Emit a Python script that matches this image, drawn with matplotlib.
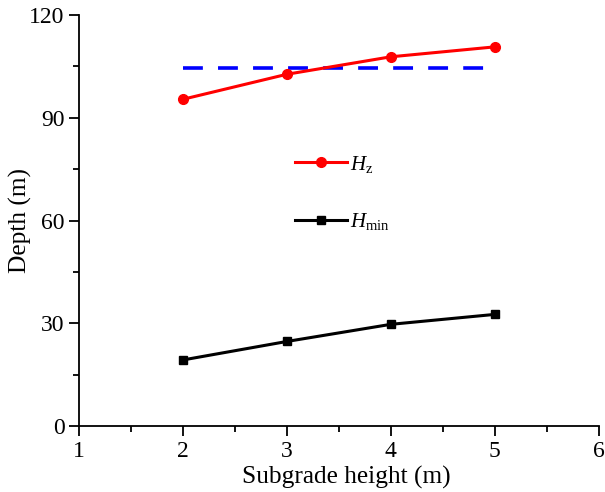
import matplotlib
matplotlib.use("Agg")
import matplotlib.pyplot as plt
from matplotlib.ticker import MultipleLocator

plt.rcParams['font.family'] = ['Liberation Serif', 'DejaVu Serif']
plt.rcParams['mathtext.fontset'] = 'custom'
plt.rcParams['mathtext.rm'] = 'Liberation Serif'
plt.rcParams['mathtext.it'] = 'Liberation Serif:italic'

# Data
subgrade_height = [2, 3, 4, 5]
H_z = [95.4, 102.7, 107.8, 110.7]
H_min = [19.3, 24.7, 29.7, 32.6]
ref_x = [2, 5]
ref_depth = [104.6, 104.6]

fig = plt.figure(figsize=(6.05, 4.92), dpi=100)
ax = fig.add_axes([0.1306, 0.134, 0.859, 0.8355])

ax.plot(ref_x, ref_depth, color='#0000ff', lw=2.6, dashes=(5.5, 4.2))
l1, = ax.plot(subgrade_height, H_z, color='#ff0000', lw=2.2, marker='o', ms=7, label=r'$H_\mathrm{z}$')
l2, = ax.plot(subgrade_height, H_min, color='black', lw=2.2, marker='s', ms=6, label=r'$H_\mathrm{min}$')

ax.set_xlim(1, 6)
ax.set_ylim(0, 120)
ax.xaxis.set_major_locator(MultipleLocator(1))
ax.xaxis.set_minor_locator(MultipleLocator(0.5))
ax.yaxis.set_major_locator(MultipleLocator(30))
ax.yaxis.set_minor_locator(MultipleLocator(15))
for s in ['top', 'right']:
    ax.spines[s].set_visible(False)
for s in ['left', 'bottom']:
    ax.spines[s].set_linewidth(1.3)
ax.tick_params(which='major', direction='out', length=7, width=1.3, labelsize=17)
ax.tick_params(which='minor', direction='out', length=4, width=1.3)
ax.set_xlabel('Subgrade height (m)', fontsize=18.3)
ax.xaxis.set_label_coords(0.515, -0.098)
ax.set_ylabel('Depth (m)', fontsize=18.3, labelpad=-2)

ax.legend(handles=[l1, l2], loc='upper left', bbox_to_anchor=(0.415, 0.663),
          frameon=False, fontsize=15, handlelength=2.5, labelspacing=1.75,
          borderpad=0, borderaxespad=0, handletextpad=0.15)

fig.savefig('out.png', dpi=100)
